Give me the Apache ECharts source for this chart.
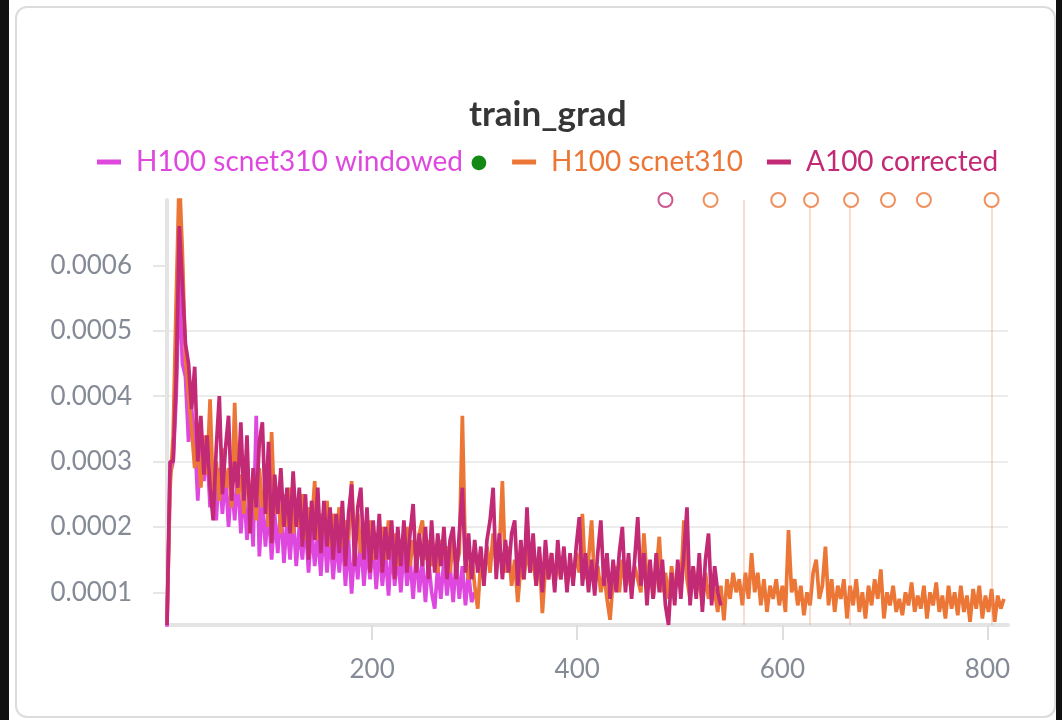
<!DOCTYPE html>
<html>
<head>
<meta charset="utf-8">
<script src="https://cdn.jsdelivr.net/npm/echarts@6/dist/echarts.min.js"></script>
<style>
  html, body { margin: 0; padding: 0; background: #fff; }
  #wrap { position: relative; width: 1062px; height: 720px; overflow: hidden; }
  .edge { position: absolute; top: 0; bottom: 0; background: #111; }
  #panel {
    position: absolute; left: 15px; top: 6px; width: 1037px; height: 708px;
    border: 2px solid #dcdcdc; border-radius: 12px; background: #fff;
  }
  #chart { position: absolute; left: 0; top: 0; width: 1062px; height: 720px; }
</style>
</head>
<body>
<div id="wrap">
  <div class="edge" style="left:0;width:9px"></div>
  <div class="edge" style="right:0;width:6px"></div>
  <div id="panel"></div>
  <div id="chart"></div>
</div>
<script>
// values are in units of 1e-4, one value every SAMPLE steps
const SAMPLE = 3

const h100Windowed = [
  0.45, 2.8, 3.0, 4.0, 5.8, 4.5, 4.3, 3.3, 3.8,
  3.4, 2.4, 3.3, 2.7, 3.2, 2.3, 3.0, 2.1, 2.9, 2.2,
  2.8, 2.0, 2.7, 2.1, 2.8, 1.9, 2.6, 1.8, 2.5, 1.7,
  3.7, 1.55, 2.4, 1.7, 2.3, 1.5, 2.2, 1.6, 2.3, 1.45,
  2.1, 1.5, 2.2, 1.4, 2.0, 1.5, 2.1, 1.3, 2.0, 1.4,
  1.9, 1.25, 2.0, 1.3, 1.9, 1.2, 1.8, 1.3, 1.9, 1.1,
  1.8, 0.98, 1.7, 1.2, 1.8, 1.1, 1.7, 1.2, 1.8, 1.05,
  1.7, 1.1, 1.6, 0.95, 1.7, 1.1, 1.6, 1.0, 1.7, 1.1,
  1.5, 0.9, 1.6, 1.0, 1.5, 0.85, 1.5, 1.0, 0.75, 1.4,
  0.9, 1.5, 0.95, 1.4, 0.85, 1.5, 0.9, 1.4, 0.8, 1.3,
  0.85, 1.0
]

const h100 = [
  0.55, 2.6, 3.4, 5.5, 7.4, 6.2, 4.6, 4.0, 3.5,
  2.9, 3.3, 2.6, 3.4, 2.8, 3.95, 2.5, 3.0, 2.4, 3.2,
  2.6, 2.9, 2.3, 3.9, 2.5, 2.8, 2.2, 3.0, 2.4, 2.7,
  2.1, 2.9, 2.3, 2.6, 2.0, 3.45, 2.2, 2.6, 1.9, 2.5,
  2.0, 2.6, 1.9, 2.4, 2.0, 2.5, 1.8, 2.3, 2.0, 2.7,
  1.8, 2.2, 1.9, 2.4, 1.7, 2.2, 1.9, 2.3, 1.7, 2.1,
  1.8, 2.7, 1.7, 2.2, 1.6, 2.0, 1.7, 2.1, 1.5, 1.9,
  1.7, 2.0, 1.5, 2.1, 1.6, 1.9, 1.4, 1.8, 1.6, 2.0,
  1.4, 1.8, 1.5, 1.9, 2.1, 1.5, 1.8, 1.4, 1.7, 1.3,
  1.8, 1.5, 1.7, 1.3, 1.8, 1.4, 1.6, 3.7, 1.5, 1.2,
  1.6, 1.1, 0.75, 1.5, 1.2, 1.7, 1.3, 1.9, 1.4, 1.6,
  2.7, 1.3, 1.7, 1.1, 1.5, 0.85, 1.4, 1.2, 1.7, 1.3,
  1.5, 1.1, 1.6, 0.68, 1.4, 1.2, 1.6, 1.1, 1.5, 1.2,
  1.6, 1.1, 1.4, 1.2, 1.6, 1.3, 2.2, 1.2, 1.5, 2.1,
  1.1, 1.4, 1.0, 1.3, 0.9, 0.58, 1.2, 1.4, 1.0, 1.5,
  1.1, 1.3, 1.0, 1.4, 1.2, 1.0, 1.9, 1.2, 1.4, 0.9,
  1.3, 1.85, 1.0, 1.3, 0.9, 1.4, 1.0, 1.3, 1.1, 2.1,
  1.2, 0.9, 1.4, 1.0, 1.2, 0.8, 1.3, 0.9, 1.2, 1.0,
  0.7, 1.1, 0.57, 1.2, 0.9, 1.3, 1.0, 1.2, 0.8, 1.3,
  0.9, 1.6, 1.0, 1.3, 0.8, 1.2, 0.7, 1.1, 0.9, 1.2,
  0.8, 1.1, 0.7, 1.95, 1.0, 1.2, 0.8, 1.1, 0.65, 1.0,
  0.8, 1.3, 1.5, 0.9, 1.1, 1.7, 0.8, 1.2, 0.7, 1.1,
  0.9, 1.2, 0.6, 1.1, 0.8, 1.2, 0.7, 1.0, 0.6, 1.1,
  0.8, 1.2, 0.9, 1.35, 0.6, 1.0, 0.8, 1.1, 0.7, 0.9,
  0.65, 1.0, 0.8, 1.15, 0.7, 0.95, 0.75, 1.1, 0.6, 1.0,
  0.8, 1.15, 0.7, 0.95, 0.6, 1.1, 0.75, 1.0, 0.65, 1.1,
  0.7, 0.95, 0.55, 1.05, 0.75, 1.1, 0.6, 0.95, 0.7, 1.05,
  0.55, 0.95, 0.75, 0.9
]

const a100 = [
  0.5, 3.0, 3.0, 4.3, 6.6, 5.7, 4.8, 4.5, 3.8,
  4.45, 3.0, 3.7, 2.8, 3.4, 2.6, 2.1, 3.2, 4.0, 2.5,
  3.2, 3.7, 2.4, 3.0, 2.6, 3.6, 2.4, 3.4, 1.9, 2.9,
  2.3, 3.3, 3.6, 2.2, 3.3, 1.75, 2.8, 2.2, 2.9, 2.0,
  2.6, 1.9, 2.85, 2.0, 2.6, 1.7, 2.5, 1.5, 2.4, 1.8,
  2.6, 1.6, 2.4, 1.7, 2.3, 1.5, 2.2, 1.6, 2.4, 1.4,
  2.2, 2.65, 1.4, 2.3, 2.6, 1.5, 2.3, 1.3, 2.1, 1.5,
  2.2, 1.3, 2.0, 1.5, 2.1, 1.2, 2.0, 1.4, 2.1, 1.3,
  1.9, 2.35, 1.3, 1.9, 1.4, 2.0, 1.2, 2.1, 1.3, 1.9,
  1.4, 2.0, 1.2, 1.8, 2.0, 1.2, 1.9, 2.6, 1.3, 1.9,
  1.2, 1.8, 1.3, 1.7, 1.1, 1.8, 2.1, 2.6, 1.2, 1.9,
  1.2, 1.8, 1.3, 1.9, 2.1, 1.1, 1.8, 1.2, 2.3, 1.3,
  1.9, 1.1, 1.7, 1.0, 1.8, 1.2, 1.6, 1.0, 1.8, 1.2,
  1.7, 1.0, 1.6, 1.1, 1.7, 2.15, 1.1, 1.6, 1.0, 1.5,
  0.95, 1.6, 2.1, 1.1, 1.6, 0.9, 1.5, 1.0, 1.6, 2.0,
  1.0, 1.6, 0.9, 1.5, 2.15, 1.1, 1.6, 0.8, 1.5, 0.9,
  1.6, 1.0, 1.5, 0.8, 0.5, 1.3, 0.8, 1.5, 0.9, 1.6,
  2.3, 0.8, 1.4, 0.9, 1.6, 0.7, 1.5, 1.9, 0.8, 1.4,
  1.0, 0.8
]

// steps whose value is off the chart (drawn as circles at the top)
const a100OffSteps = [486]
const h100OffSteps = [530, 596, 628, 667, 703, 738, 804]
// faint vertical spikes of H100 scnet310
const h100SpikeSteps = [562, 627, 666, 804]

const yTicks = [1, 2, 3, 4, 5, 6]
const xTicks = [200, 400, 600, 800]

const names = ['H100 scnet310 windowed', 'H100 scnet310', 'A100 corrected']
const colors = ['#df48df', '#eb7636', '#c32a76']

const Y_MIN = 0.5
const Y_MAX = 7

const toPairs = arr => arr.map((v, i) => [i * SAMPLE, v])
const offPairs = arr => arr.map(s => [s, Y_MAX])

const font = 'Lato, "Noto Sans", sans-serif'

const chart = echarts.init(document.getElementById('chart'), null, { renderer: 'canvas' })

const lineSeries = (idx, data, z) => ({
  name: names[idx],
  type: 'line',
  data: toPairs(data),
  showSymbol: false,
  symbol: 'none',
  z: z,
  lineStyle: { width: 3.7, color: colors[idx], join: 'bevel' },
  itemStyle: { color: colors[idx] },
  emphasis: { disabled: true }
})

const offSeries = (name, steps, color) => ({
  name: name,
  type: 'scatter',
  data: offPairs(steps),
  symbol: 'emptyCircle',
  symbolSize: 14,
  clip: false,
  z: 5,
  itemStyle: { color: color, borderWidth: 2 },
  emphasis: { disabled: true }
})

const option = {
  animation: false,
  title: {
    text: 'train_grad',
    left: 464,
    top: 92,
    textStyle: { fontFamily: font, fontSize: 35, fontWeight: 'bold', color: '#363636' }
  },
  legend: {
    top: 142,
    left: 92,
    itemWidth: 24,
    itemHeight: 5,
    itemGap: 24,
    icon: 'rect',
    data: names.map((n, i) => ({ name: n, textStyle: { color: colors[i] } })),
    formatter: name => name === names[0] ? name + ' {g|●}' : name,
    textStyle: {
      fontFamily: font,
      fontSize: 28,
      padding: [0, 0, 0, 10],
      rich: { g: { color: '#138a13', fontSize: 30 } }
    }
  },
  grid: { left: 167, right: 54, top: 200, bottom: 95 },
  xAxis: {
    type: 'value',
    min: 0,
    max: 820,
    axisLine: { show: true, onZero: false, lineStyle: { color: '#e4e4e4', width: 4 } },
    axisTick: { show: true, length: 15, customValues: xTicks, lineStyle: { color: '#dedede', width: 2 } },
    axisLabel: { customValues: xTicks, margin: 32, fontFamily: font, fontSize: 26, color: '#858b96' },
    splitLine: { show: false }
  },
  yAxis: {
    type: 'value',
    min: Y_MIN,
    max: Y_MAX,
    axisLine: { show: true, lineStyle: { color: '#e4e4e4', width: 4 } },
    axisTick: { show: true, length: 14, customValues: yTicks, lineStyle: { color: '#e6e6e6', width: 2 } },
    axisLabel: {
      customValues: yTicks,
      margin: 35,
      fontFamily: font,
      fontSize: 26,
      color: '#858b96',
      formatter: v => (v / 10000).toFixed(4)
    },
    splitLine: { show: true, showMinLine: false, showMaxLine: false, lineStyle: { color: '#ececec', width: 2 } }
  },
  series: [
    lineSeries(0, h100Windowed, 2),
    Object.assign(lineSeries(1, h100, 3), {
      markLine: {
        silent: true,
        symbol: 'none',
        label: { show: false },
        lineStyle: { color: 'rgba(240,140,100,0.3)', width: 2, type: 'solid' },
        data: h100SpikeSteps.map(s => ({ xAxis: s }))
      }
    }),
    lineSeries(2, a100, 4),
    offSeries('a100-off', a100OffSteps, colors[2]),
    offSeries('h100-off', h100OffSteps, colors[1])
  ]
}

chart.setOption(option)
</script>
</body>
</html>
